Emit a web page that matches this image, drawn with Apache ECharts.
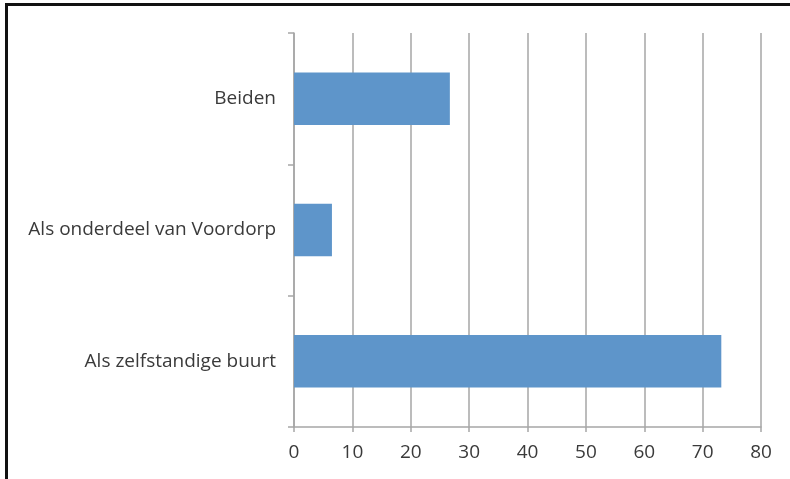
<!DOCTYPE html>
<html>
<head>
<meta charset="utf-8">
<script src="https://cdn.jsdelivr.net/npm/echarts@6/dist/echarts.min.js"></script>
<style>
  html, body { margin: 0; padding: 0; background: #fff; }
  .frame {
    position: absolute; left: 5px; top: 3px; width: 785px; height: 476px;
    border-top: 3px solid #111; border-left: 3px solid #111;
  }
  #chart { position: absolute; left: 0; top: 0; width: 790px; height: 479px; }
</style>
</head>
<body>
<div class="frame"></div>
<div id="chart"></div>
<script>
const categories = ['Als zelfstandige buurt', 'Als onderdeel van Voordorp', 'Beiden']
const values = [73.2, 6.5, 26.7]
const tickMin = 0
const tickMax = 80
const tickStep = 10

const axisGrey = '#a6a6a6'
const textColor = '#3a3a3a'

const chart = echarts.init(document.getElementById('chart'))
chart.setOption({
  animation: false,
  grid: { left: 294, right: 29, top: 33, bottom: 52 },
  xAxis: {
    type: 'value', min: tickMin, max: tickMax, interval: tickStep,
    axisLine: { show: true, lineStyle: { color: axisGrey, width: 1.5 } },
    axisTick: { show: true, length: 5, lineStyle: { color: axisGrey, width: 1.5 } },
    axisLabel: { color: textColor, fontSize: 19, fontFamily: 'Open Sans', margin: 16 },
    splitLine: { show: true, lineStyle: { color: axisGrey, width: 1.5 } },
  },
  yAxis: {
    type: 'category', data: categories,
    axisLine: { show: true, lineStyle: { color: axisGrey, width: 1.5 } },
    axisTick: { show: true, length: 6, lineStyle: { color: axisGrey, width: 1.5 } },
    axisLabel: { color: textColor, fontSize: 19, fontFamily: 'Open Sans', margin: 18 },
  },
  series: [{
    type: 'bar', data: values, barWidth: '40%',
    itemStyle: { color: '#5e95ca' },
  }],
})
</script>
</body>
</html>
